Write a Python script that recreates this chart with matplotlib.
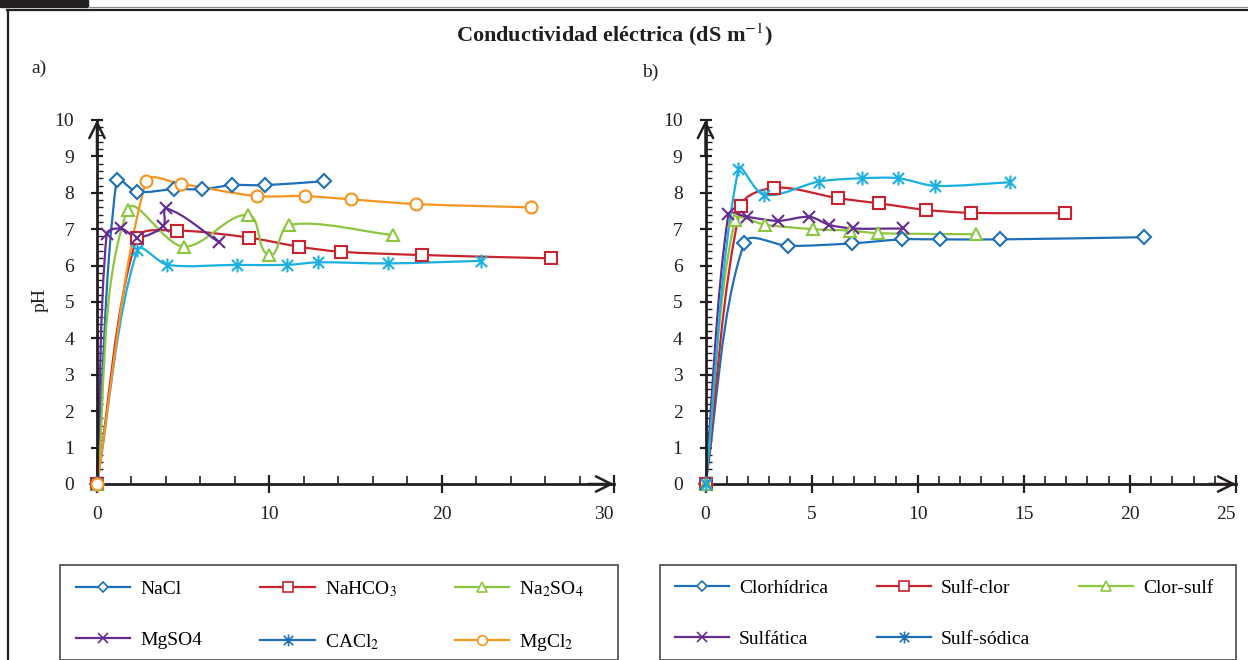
import numpy as np
import matplotlib
matplotlib.use("Agg")
import matplotlib.pyplot as plt
from matplotlib.path import Path
from matplotlib.patches import PathPatch, Rectangle
from matplotlib.lines import Line2D


# a) soluciones de sales
nacl_x = [0, 1.14, 2.3, 4.48, 6.12, 7.84, 9.74, 13.2]
nacl_y = [0, 8.35, 8.03, 8.1, 8.1, 8.21, 8.21, 8.32]
nahco3_x = [0, 2.3, 4.62, 8.81, 11.71, 14.14, 18.87, 26.32]
nahco3_y = [0, 6.75, 6.96, 6.77, 6.52, 6.38, 6.29, 6.2]
na2so4_x = [0, 1.77, 5.04, 8.77, 9.99, 11.15, 17.18]
na2so4_y = [0, 7.53, 6.52, 7.39, 6.29, 7.12, 6.84]
mgso4_x = [0, 0.56, 1.39, 2.34, 3.85, 4.03, 7.09]
mgso4_y = [0, 6.87, 7.02, 6.77, 7.09, 7.57, 6.64]
cacl2_x = [0, 2.34, 4.09, 8.1, 11.05, 12.83, 16.89, 22.26]
cacl2_y = [0, 6.43, 6.02, 6.02, 6.02, 6.09, 6.06, 6.13]
mgcl2_x = [0, 2.84, 4.87, 9.26, 12.06, 14.72, 18.53, 25.16]
mgcl2_y = [0, 8.32, 8.24, 7.91, 7.91, 7.82, 7.69, 7.6]

# b) tipos de salinidad
clor_x = [0, 1.83, 3.91, 6.9, 9.25, 11.06, 13.89, 20.65]
clor_y = [0, 6.63, 6.54, 6.61, 6.72, 6.72, 6.72, 6.78]
sulfclor_x = [0, 1.67, 3.25, 6.26, 8.18, 10.4, 12.52, 16.92]
sulfclor_y = [0, 7.64, 8.14, 7.85, 7.71, 7.53, 7.45, 7.44]
clorsulf_x = [0, 1.39, 2.81, 5.08, 6.82, 8.12, 12.74]
clorsulf_y = [0, 7.25, 7.12, 7.0, 6.96, 6.89, 6.86]
sulfatica_x = [0, 1.08, 1.94, 3.43, 4.9, 5.83, 6.94, 9.3]
sulfatica_y = [0, 7.41, 7.34, 7.23, 7.34, 7.12, 7.02, 7.02]
sulfsod_x = [0, 1.55, 2.77, 5.35, 7.37, 9.09, 10.83, 14.36]
sulfsod_y = [0, 8.65, 7.94, 8.31, 8.4, 8.4, 8.19, 8.29]

a_labels = ["NaCl", "NaHCO$_3$", "Na$_2$SO$_4$", "MgSO4", "CACl$_2$", "MgCl$_2$"]
b_labels = ["Clorhídrica", "Sulf-clor", "Clor-sulf", "Sulfática", "Sulf-sódica"]

BLUE = "#1f6fb8"
RED = "#c8232e"
GREEN = "#8cc63f"
PURPLE = "#662d91"
CYAN = "#1ab0e0"
ORANGE = "#f7941d"
INK = "#231f20"

STAR = Path([(-1, -1), (1, 1), (-1, 1), (1, -1), (0, -1.25), (0, 1.25)],
            [Path.MOVETO, Path.LINETO] * 3)

W, H = 1248, 660


def fx(px):
    return px / W


def fy(py):
    return 1 - py / H


def smooth_line(ax, xs, ys, color, k=0.3):
    # bezier through the points, tangents along neighbour chords (screen space)
    pts = ax.transData.transform(np.column_stack([xs, ys]))
    n = len(pts)
    tang = np.zeros_like(pts)
    for i in range(n):
        d = pts[min(i + 1, n - 1)] - pts[max(i - 1, 0)]
        tang[i] = d / np.hypot(*d)
    verts = [pts[0]]
    codes = [Path.MOVETO]
    for i in range(n - 1):
        seg = np.hypot(*(pts[i + 1] - pts[i]))
        verts += [pts[i] + tang[i] * seg * k, pts[i + 1] - tang[i + 1] * seg * k, pts[i + 1]]
        codes += [Path.CURVE4] * 3
    verts = ax.transData.inverted().transform(np.array(verts))
    ax.add_patch(PathPatch(Path(verts, codes), fill=False, edgecolor=color, lw=1.6,
                           clip_on=False, zorder=2))


def series(ax, xs, ys, color, marker, ms):
    smooth_line(ax, xs, ys, color)
    ax.plot(xs, ys, ls="none", marker=marker, ms=ms, mfc="white", mec=color,
            mew=1.5, clip_on=False, zorder=3)


def style_axis(ax, xmax, xmajor, xminor):
    ax.set_xlim(0, xmax)
    ax.set_ylim(0, 10)
    for s in ["top", "right"]:
        ax.spines[s].set_visible(False)
    for s in ["left", "bottom"]:
        ax.spines[s].set_color(INK)
        ax.spines[s].set_linewidth(2.0)
    xt = np.arange(0, xmax + 0.1, xmajor)
    ax.set_xticks(xt, [f"{v:g}" for v in xt])
    ax.set_xticks(np.arange(0, xmax + 0.1, xminor), minor=True)
    ax.set_yticks(np.arange(0, 11, 1))
    ax.set_yticks(np.arange(0, 10.01, 0.2), minor=True)
    ax.tick_params(axis="x", which="major", direction="inout", length=13, width=1.6,
                   color=INK, labelsize=14, pad=9, labelcolor=INK)
    ax.tick_params(axis="x", which="minor", direction="in", length=6, width=1.2, color=INK)
    ax.tick_params(axis="y", which="major", direction="inout", length=9, width=1.6,
                   color=INK, labelsize=14, pad=12, labelcolor=INK)
    ax.tick_params(axis="y", which="minor", direction="in", length=4, width=1.0, color=INK)
    ax.get_xticklabels()[-1].set_horizontalalignment("right")
    arrow = dict(arrowstyle="->,head_length=1.1,head_width=0.55", lw=1.8, color=INK,
                 shrinkA=0, shrinkB=0)
    ax.annotate("", xy=(0, 10), xytext=(0, 9.0), arrowprops=arrow, annotation_clip=False)
    ax.annotate("", xy=(xmax, 0), xytext=(xmax * 0.95, 0), arrowprops=arrow,
                annotation_clip=False)
    ax.patch.set_visible(False)


def legend_box(fig, handles, labels, left, right, top, text_x, colsp):
    fig.patches.append(Rectangle((fx(left), 0), fx(right - left), fy(top),
                                 transform=fig.transFigure, fill=False,
                                 edgecolor="#555555", lw=1.3))
    fig.legend(handles, labels, loc="upper left", bbox_to_anchor=(fx(text_x), fy(top + 14)),
               ncol=3, frameon=False, fontsize=14, handlelength=2.8, handletextpad=0.5,
               columnspacing=colsp, labelspacing=1.72, borderpad=0, borderaxespad=0)


def proxy(color, marker, ms):
    return Line2D([], [], color=color, lw=1.6, marker=marker, ms=ms, mfc="white",
                  mec=color, mew=1.2)


def main():
    plt.rcParams["font.family"] = "Liberation Serif"
    plt.rcParams["mathtext.fontset"] = "stix"

    fig = plt.figure(figsize=(W / 100, H / 100), dpi=100)
    ax_a = fig.add_axes([fx(97), fy(484), fx(614 - 97), fy(120) - fy(484)])
    ax_b = fig.add_axes([fx(705.5), fy(484), fx(1236 - 705.5), fy(120) - fy(484)])

    style_axis(ax_a, 30, 10, 2)
    style_axis(ax_b, 25, 5, 1)

    series(ax_a, nacl_x, nacl_y, BLUE, "D", 7)
    series(ax_a, nahco3_x, nahco3_y, RED, "s", 8.2)
    series(ax_a, na2so4_x, na2so4_y, GREEN, "^", 8)
    series(ax_a, mgso4_x, mgso4_y, PURPLE, "x", 9)
    series(ax_a, cacl2_x, cacl2_y, CYAN, STAR, 10)
    series(ax_a, mgcl2_x, mgcl2_y, ORANGE, "o", 8.6)

    series(ax_b, clor_x, clor_y, BLUE, "D", 7)
    series(ax_b, sulfclor_x, sulfclor_y, RED, "s", 8.2)
    series(ax_b, clorsulf_x, clorsulf_y, GREEN, "^", 8)
    series(ax_b, sulfatica_x, sulfatica_y, PURPLE, "x", 9)
    series(ax_b, sulfsod_x, sulfsod_y, CYAN, STAR, 10)

    fig.text(fx(40), fy(300), "pH", rotation=90, ha="center", va="center",
             fontsize=14, color=INK)
    fig.text(fx(614), fy(35), "Conductividad eléctrica (dS m$^{-1}$)", ha="center",
             va="center", fontsize=16, fontweight="bold", color=INK)
    fig.text(fx(31), fy(68), "a)", ha="left", va="center", fontsize=14, color=INK)
    fig.text(fx(642), fy(72), "b)", ha="left", va="center", fontsize=14, color=INK)

    # page frame
    fig.lines.append(Line2D([fx(7), 1], [fy(9.5), fy(9.5)], transform=fig.transFigure,
                            color=INK, lw=1.6))
    fig.lines.append(Line2D([fx(7.5), fx(7.5)], [0, fy(9.5)], transform=fig.transFigure,
                            color=INK, lw=1.6))
    fig.lines.append(Line2D([fx(88), 1], [fy(6.5), fy(6.5)], transform=fig.transFigure,
                            color="#888888", lw=0.8))
    fig.patches.append(Rectangle((0, fy(7)), fx(88), 1 - fy(7), transform=fig.transFigure,
                                 color=INK))

    a_handles = [proxy(BLUE, "D", 5.5), proxy(RED, "s", 7), proxy(GREEN, "^", 7),
                 proxy(PURPLE, "x", 7.5), proxy(BLUE, STAR, 8.5), proxy(ORANGE, "o", 7)]
    order = [0, 3, 1, 4, 2, 5]
    legend_box(fig, [a_handles[i] for i in order], [a_labels[i] for i in order],
               59.6, 618, 565, 76, 3.0)

    b_handles = [proxy(BLUE, "D", 5.5), proxy(RED, "s", 7), proxy(GREEN, "^", 7),
                 proxy(PURPLE, "x", 7.5), proxy(BLUE, STAR, 8.5)]
    order = [0, 3, 1, 4, 2]
    legend_box(fig, [b_handles[i] for i in order], [b_labels[i] for i in order],
               659.5, 1236, 565, 675, 2.5)

    fig.savefig("out.png", dpi=100)
    plt.close(fig)


if __name__ == "__main__":
    main()
